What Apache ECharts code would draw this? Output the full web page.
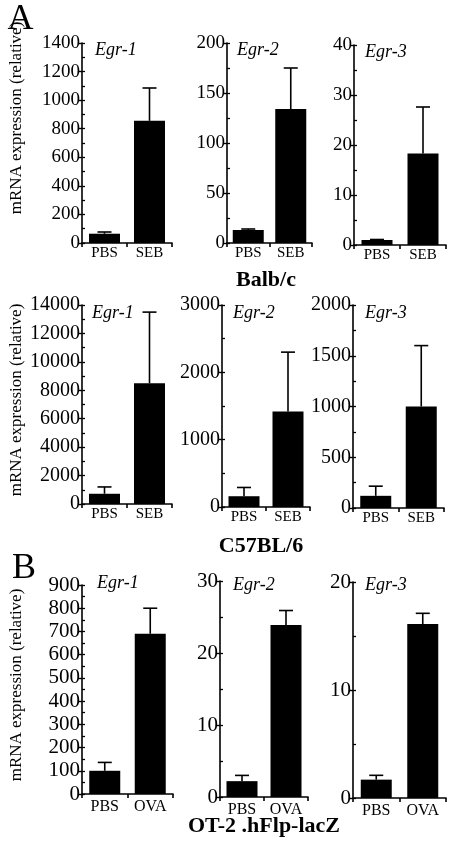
<!DOCTYPE html>
<html>
<head>
<meta charset="utf-8">
<script src="https://cdn.jsdelivr.net/npm/echarts@6/dist/echarts.min.js"></script>
<style>
html,body{margin:0;padding:0;background:#fff;}
#chart{width:451px;height:848px;}
</style>
</head>
<body>
<div id="chart"></div>
<script>
// ---- data ----
const genes = ['Egr-1', 'Egr-2', 'Egr-3'];
const catsSEB = ['PBS', 'SEB'];
const catsOVA = ['PBS', 'OVA'];

// Balb/c (SEB)
const balbMean = [[65, 855], [13, 134], [1.0, 18.3]];
const balbSD   = [[12, 230], [1, 41], [0.1, 9.3]];
// C57BL/6 (SEB)
const c57Mean = [[720, 8500], [160, 1420], [120, 1000]];
const c57SD   = [[480, 5000], [130, 880], [95, 600]];
// OT-2 .hFlp-lacZ (OVA)
const otMean = [[100, 690], [2.2, 23.9], [1.7, 16.1]];
const otSD   = [[36, 110], [0.8, 2.0], [0.4, 1.0]];

// y axis ranges: max and label interval
const balbMax = [1400, 200, 40];
const balbInt = [200, 50, 10];
const c57Max = [14000, 3000, 2000];
const c57Int = [2000, 1000, 500];
const otMax = [900, 30, 20];
const otInt = [100, 10, 10];

const rowTitles = ['Balb/c', 'C57BL/6', 'OT-2 .hFlp-lacZ'];
const yName = 'mRNA expression (relative)';

// ---- layout ----
const grids = [
  [82, 43, 90, 200], [227, 43, 85, 200], [354, 45, 92, 200],
  [82, 305, 90, 199], [222, 305, 88, 202], [353, 305, 91, 203],
  [82, 585, 91, 209], [220, 581, 88, 216], [353, 582, 93, 216]
];
const rows = [
  {cats: catsSEB, mean: balbMean, sd: balbSD, max: balbMax, int: balbInt, yFont: 19, xFont: 15, xMargin: 3},
  {cats: catsSEB, mean: c57Mean, sd: c57SD, max: c57Max, int: c57Int, yFont: 20, xFont: 15, xMargin: 3},
  {cats: catsOVA, mean: otMean, sd: otSD, max: otMax, int: otInt, yFont: 21, xFont: 16, xMargin: 5}
];
const geneTitlePos = [
  [95, 50], [237, 50], [365, 52],
  [92, 313], [233, 313], [365, 313],
  [97, 583], [233, 585], [365, 585]
];

const FONT = '"Liberation Serif", "Times New Roman", serif';

const option = {
  backgroundColor: '#fff',
  animation: false,
  grid: [], xAxis: [], yAxis: [], series: [], graphic: []
};

function errRender(params, api) {
  const x = api.value(0), v = api.value(1), e = api.value(2);
  const p0 = api.coord([x, v]);
  const p1 = api.coord([x, v + e]);
  const st = {stroke: '#000', lineWidth: 1.6};
  return {type: 'group', children: [
    {type: 'line', shape: {x1: p0[0], y1: p0[1], x2: p1[0], y2: p1[1]}, style: st},
    {type: 'line', shape: {x1: p1[0] - 7, y1: p1[1], x2: p1[0] + 7, y2: p1[1]}, style: st}
  ]};
}

let k = 0;
rows.forEach((row, r) => {
  for (let g = 0; g < 3; g++) {
    const [l, t, w, h] = grids[k];
    option.grid.push({left: l, top: t, width: w, height: h, containLabel: false});
    option.xAxis.push({
      type: 'category', gridIndex: k, data: row.cats,
      axisLine: {lineStyle: {color: '#000', width: 1.6}},
      axisTick: {show: true, length: 4, lineStyle: {color: '#000', width: 1.6}},
      axisLabel: {color: '#000', fontFamily: FONT, fontSize: row.xFont, margin: row.xMargin},
      splitLine: {show: false}
    });
    // main y axis
    option.yAxis.push({
      type: 'value', gridIndex: k, position: 'left', min: 0, max: row.max[g], interval: row.int[g],
      axisLine: {show: true, lineStyle: {color: '#000', width: 1.6}},
      axisTick: {show: true, length: 4, lineStyle: {color: '#000', width: 1.4}},
      axisLabel: {color: '#000', fontFamily: FONT, fontSize: row.yFont, margin: 2,
                  formatter: v => String(v)},
      splitLine: {show: false}
    });
    // overlay axis for minor ticks (inside)
    option.yAxis.push({
      type: 'value', gridIndex: k, position: 'left', offset: 0,
      min: 0, max: row.max[g], interval: row.int[g] / 2,
      axisLine: {show: false},
      axisTick: {show: true, inside: true, length: 3, lineStyle: {color: '#000', width: 1.3}},
      axisLabel: {show: false},
      splitLine: {show: false}
    });
    option.series.push({
      type: 'bar', xAxisIndex: k, yAxisIndex: 2 * k,
      data: row.mean[g], barWidth: 31,
      itemStyle: {color: '#000'}, silent: true
    });
    option.series.push({
      type: 'custom', xAxisIndex: k, yAxisIndex: 2 * k,
      renderItem: errRender, silent: true, z: 3,
      data: row.mean[g].map((v, i) => [i, v, row.sd[g][i]])
    });
    const [gx, gy] = geneTitlePos[k];
    option.graphic.push({
      type: 'text', x: gx, y: gy,
      style: {text: genes[g], fill: '#000', font: 'italic 18px ' + FONT, align: 'left', verticalAlign: 'middle'}
    });
    k++;
  }
});

// panel letters
option.graphic.push({type: 'text', x: 20.5, y: 20, style: {text: 'A', fill: '#000', font: '36px ' + FONT, align: 'center', verticalAlign: 'middle'}});
option.graphic.push({type: 'text', x: 24, y: 569, style: {text: 'B', fill: '#000', font: '36px ' + FONT, align: 'center', verticalAlign: 'middle'}});
// row titles
const rowTitlePos = [[266, 280], [261, 546], [264, 826]];
rowTitles.forEach((s, i) => {
  option.graphic.push({type: 'text', x: rowTitlePos[i][0], y: rowTitlePos[i][1],
    style: {text: s, fill: '#000', font: 'bold 22px ' + FONT, align: 'center', verticalAlign: 'middle'}});
});
// y axis names
[[17, 118], [17, 400], [17, 685]].forEach(p => {
  option.graphic.push({type: 'text', x: p[0], y: p[1], rotation: Math.PI / 2,
    style: {text: yName, fill: '#000', font: '17px ' + FONT, align: 'center', verticalAlign: 'middle'}});
});

const chart = echarts.init(document.getElementById('chart'), null, {renderer: 'canvas'});
chart.setOption(option);
</script>
</body>
</html>
